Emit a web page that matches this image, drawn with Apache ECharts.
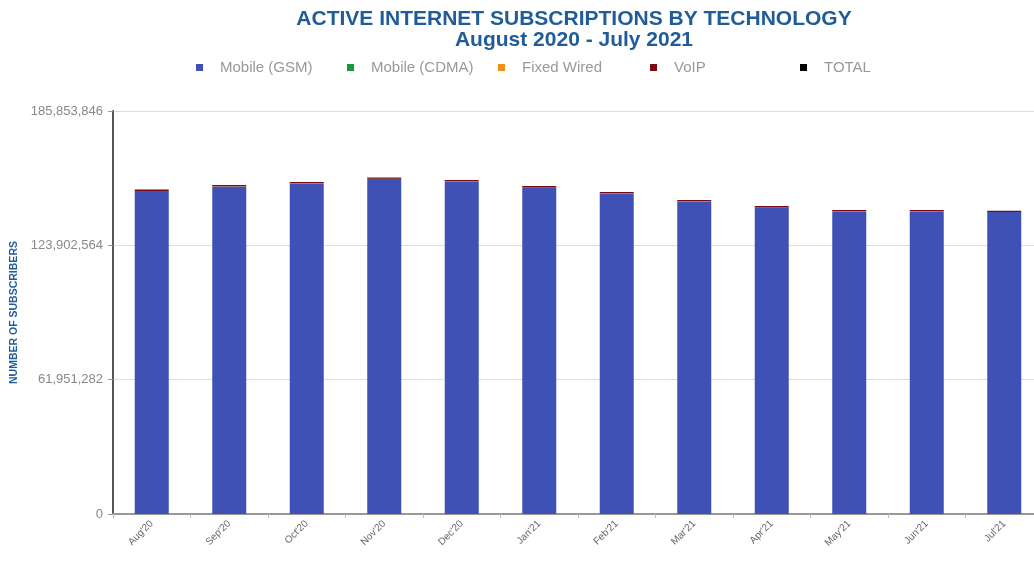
<!DOCTYPE html>
<html>
<head>
<meta charset="utf-8">
<script src="https://cdn.jsdelivr.net/npm/echarts@6/dist/echarts.min.js"></script>
<style>html,body{margin:0;padding:0;background:#fff;}#c{width:1034px;height:561px;}</style>
</head>
<body>
<div id="c"></div>
<script>
const categories = ["Aug'20","Sep'20","Oct'20","Nov'20","Dec'20","Jan'21","Feb'21","Mar'21","Apr'21","May'21","Jun'21","Jul'21"];
const gsm   = [148950000,151050000,152450000,154550000,153350000,150650000,147850000,144150000,141350000,139550000,139550000,139250000];
const cdma  = [3000,3000,3000,3000,3000,3000,3000,3000,3000,3000,3000,3000];
const fixedWired = [45000,45000,46000,46000,46000,46000,46000,46000,46000,46000,46000,46000];
const voip  = [600000,600000,600000,600000,600000,600000,600000,600000,600000,600000,600000,600000];
const total = gsm.map((v,i)=>v+cdma[i]+fixedWired[i]+voip[i]);
const yTicks = [0,61951282,123902564,185853846];
const legendNames = ['Mobile (GSM)','Mobile (CDMA)','Fixed Wired','VoIP','TOTAL'];
const legendLeft = [196,347,498,650,800];

const blue = '#1f5c99';
const font = 'Liberation Sans, Arial';
const chart = echarts.init(document.getElementById('c'));
chart.setOption({
  animation:false,
  title:{
    text:'ACTIVE INTERNET SUBSCRIPTIONS BY TECHNOLOGY\nAugust 2020 - July 2021',
    left:569, top:4, textAlign:'center',
    textStyle:{fontFamily:font, fontSize:21, fontWeight:'bold', color:blue, lineHeight:21}
  },
  legend: legendNames.map((n,i)=>({
    left:legendLeft[i], top:60, itemWidth:7, itemHeight:7, icon:'rect', padding:0,
    textStyle:{fontFamily:font, fontSize:15, color:'#999', padding:[0,0,0,12]},
    data:[ n==='TOTAL' ? {name:n, itemStyle:{color:'#000', opacity:1}} : {name:n} ]
  })),
  grid:{left:113, top:111, bottom:47, right:-9, containLabel:false, outerBoundsMode:'none'},
  xAxis:{
    type:'category', data:categories,
    axisLine:{lineStyle:{color:'#999', width:2}},
    axisTick:{show:true, lineStyle:{color:'#bbb'}, length:4},
    axisLabel:{rotate:45, fontFamily:font, fontSize:10, color:'#666', margin:8}
  },
  yAxis:{
    type:'value', min:yTicks[0], max:yTicks[3], interval:yTicks[1],
    name:'NUMBER OF SUBSCRIBERS', nameLocation:'middle', nameGap:92, nameRotate:90,
    nameTextStyle:{fontFamily:font, fontSize:10.5, fontWeight:'bold', color:blue},
    axisLine:{show:true, lineStyle:{color:'#555', width:2}},
    axisTick:{show:true, length:5, lineStyle:{color:'#999'}},
    splitLine:{lineStyle:{color:'#ddd'}},
    axisLabel:{fontFamily:font, fontSize:13, color:'#888', margin:10,
      formatter:v=>Math.round(v).toLocaleString('en-US')}
  },
  series:[
    {name:'Mobile (GSM)', type:'bar', stack:'t', data:gsm, barWidth:34, itemStyle:{color:'#3f51b5'}},
    {name:'Mobile (CDMA)', type:'bar', stack:'t', data:cdma, barWidth:34, itemStyle:{color:'#1a9641'}},
    {name:'Fixed Wired', type:'bar', stack:'t', data:fixedWired, barWidth:34, itemStyle:{color:'#f28e1c'}},
    {name:'VoIP', type:'bar', stack:'t', data:voip, barWidth:34, itemStyle:{color:'#7a0a12'}},
    {name:'TOTAL', type:'line', data:total, symbol:'none', itemStyle:{color:'#000'}, lineStyle:{opacity:0}, silent:true}
  ]
});
</script>
</body>
</html>
